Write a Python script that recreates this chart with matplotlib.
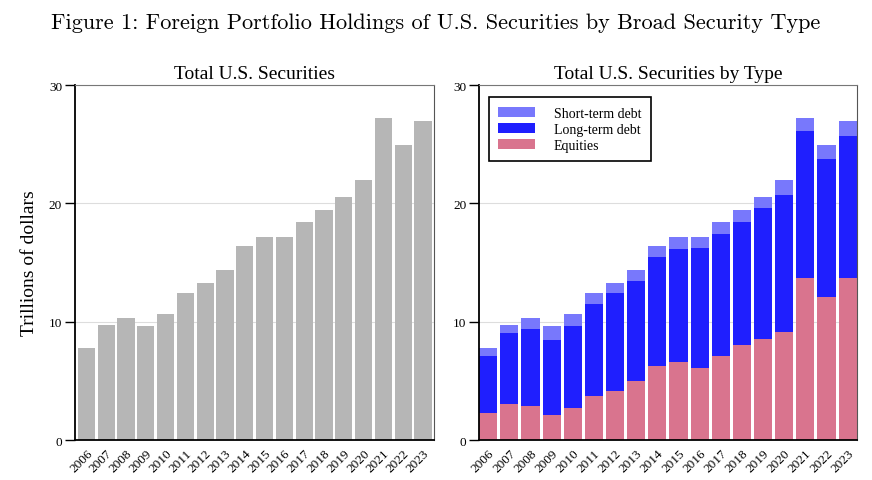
import numpy as np
import matplotlib
matplotlib.use("Agg")
import matplotlib.pyplot as plt

plt.rcParams["font.family"] = ["Liberation Serif", "DejaVu Serif"]

# data (trillions of dollars)
years = [str(y) for y in range(2006, 2024)]
equities = [2.28, 3.04, 2.87, 2.11, 2.70, 3.72, 4.14, 4.99, 6.25, 6.59,
            6.08, 7.10, 8.03, 8.54, 9.10, 13.67, 12.12, 13.67]
long_term = [4.82, 6.00, 6.51, 6.34, 6.94, 7.78, 8.29, 8.45, 9.22, 9.56,
             10.15, 10.31, 10.40, 11.07, 11.61, 12.45, 11.63, 12.03]
short_term = [0.65, 0.71, 0.92, 1.20, 1.01, 0.93, 0.84, 0.96, 0.93, 1.00,
              0.92, 1.02, 1.01, 0.93, 1.27, 1.13, 1.19, 1.27]

eq = np.array(equities)
lt = np.array(long_term)
st = np.array(short_term)
total = eq + lt + st
x = np.arange(len(years))

fig = plt.figure(figsize=(8.72, 4.81), dpi=100)
ax1 = fig.add_axes([0.0855, 0.083, 0.412, 0.738])
ax2 = fig.add_axes([0.549, 0.083, 0.434, 0.738])

fig.text(0.5, 0.952, "Figure 1: Foreign Portfolio Holdings of U.S. Securities by Broad Security Type",
         ha="center", va="center", fontsize=16, family=["cmr10"])


def style(ax, title):
    ax.set_ylim(0, 30)
    ax.set_yticks([0, 10, 20, 30])
    ax.set_xticks(x)
    ax.set_xticklabels(years, rotation=45, ha="right", rotation_mode="anchor", fontsize=9.5)
    ax.tick_params(axis="y", length=7, width=1, labelsize=9.5, pad=2)
    ax.tick_params(axis="x", length=0, pad=5)
    ax.grid(axis="y", color="#dddddd", linewidth=0.8)
    ax.set_axisbelow(True)
    ax.spines["left"].set_linewidth(1.3)
    ax.spines["bottom"].set_linewidth(1.3)
    ax.spines["top"].set_color("#777777")
    ax.spines["right"].set_color("#555555")
    ax.spines["right"].set_linewidth(0.8)
    ax.set_title(title, fontsize=14, pad=5)


ax1.bar(x, total, width=0.87, color="#b6b6b6")
ax1.set_xlim(-0.6, 17.55)
style(ax1, "Total U.S. Securities")
ax1.set_ylabel("Trillions of dollars", fontsize=14, labelpad=8)

ax2.bar(x, eq, width=0.86, color="#d9748e", label="Equities")
ax2.bar(x, lt, width=0.86, bottom=eq, color="#1f1ffe", label="Long-term debt")
ax2.bar(x, st, width=0.86, bottom=eq + lt, color="#7878fc", label="Short-term debt")
ax2.set_xlim(-0.45, 17.45)
style(ax2, "Total U.S. Securities by Type")

handles, labels = ax2.get_legend_handles_labels()
leg = ax2.legend(handles[::-1], labels[::-1], loc="upper left", fontsize=10,
                 fancybox=False, edgecolor="black", framealpha=1,
                 handlelength=2.65, handleheight=0.75, handletextpad=1.35,
                 borderpad=0.7, labelspacing=0.2, bbox_to_anchor=(0.008, 0.985))
leg.get_frame().set_linewidth(1.2)

fig.savefig("out.png", dpi=100)
